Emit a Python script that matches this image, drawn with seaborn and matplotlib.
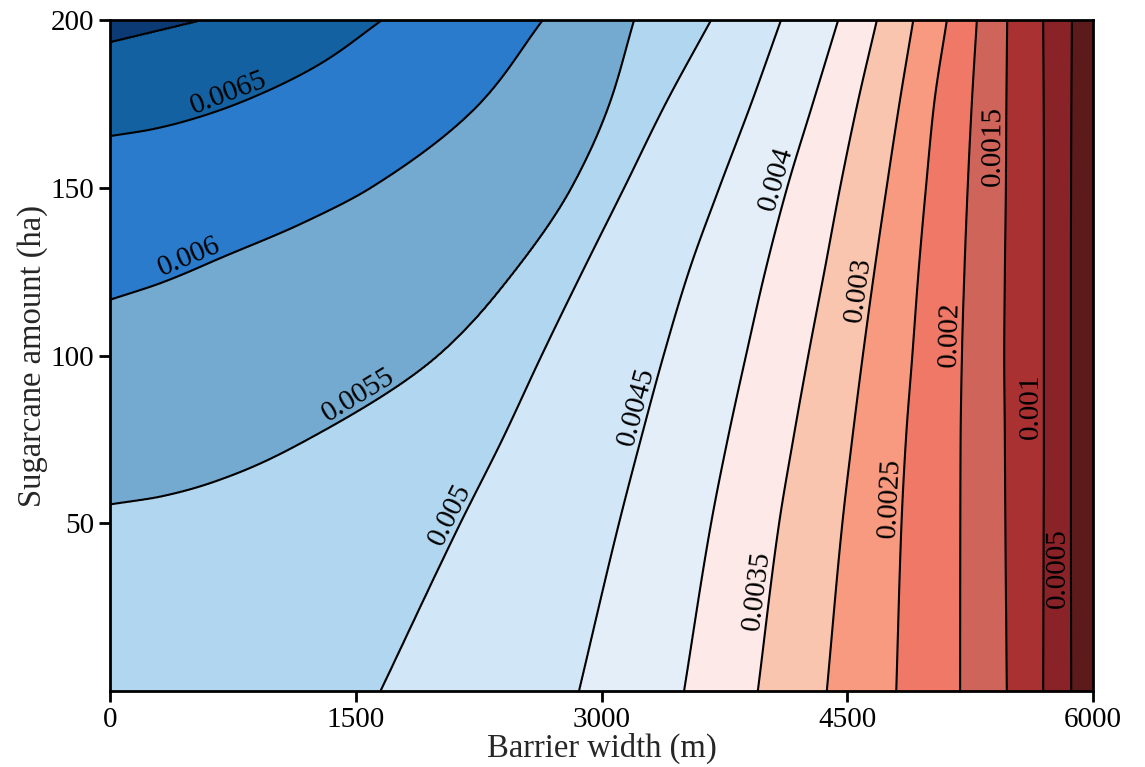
import numpy as np
import matplotlib
matplotlib.use('Agg')
import matplotlib.pyplot as plt
import seaborn as sns

# contour levels and the colours of the 15 filled bands, low -> high
band_edges = [0.0, 0.0005, 0.001, 0.0015, 0.002, 0.0025, 0.003, 0.0035,
              0.004, 0.0045, 0.005, 0.0055, 0.006, 0.0065, 0.007, 0.0075]
line_levels = band_edges[1:-1]
band_colors = ['#5c1a1b', '#8a2327', '#a93131', '#cf655a', '#ef7866',
               '#f89a7f', '#f9c5af', '#fde9e7', '#e3eef8', '#d1e6f7',
               '#b0d7ef', '#74aad0', '#2a7bcb', '#1461a1', '#0b3a75']

# barrier width (m) where each contour line crosses these sugarcane amounts (ha)
rows_ha = [0, 50, 75, 100, 125, 150, 175, 200]
x_0005 = [5867, 5865, 5865, 5865, 5865, 5866, 5868, 5871]
x_0010 = [5696, 5699, 5700, 5700, 5700, 5700, 5699, 5696]
x_0015 = [5474, 5465, 5462, 5458, 5462, 5468, 5471, 5476]
x_0020 = [5189, 5190, 5192, 5200, 5215, 5235, 5260, 5291]
x_0025 = [4799, 4831, 4858, 4897, 4935, 4980, 5030, 5108]
x_0030 = [4375, 4470, 4530, 4595, 4665, 4740, 4818, 4903]
x_0035 = [3954, 4084, 4170, 4262, 4360, 4456, 4562, 4681]
x_0040 = [3504, 3669, 3770, 3882, 3999, 4133, 4289, 4445]
x_0045 = [2863, 3107, 3240, 3379, 3533, 3719, 3913, 4096]
x_0050 = [1652, 2139, 2395, 2634, 2883, 3138, 3390, 3669]

# the upper lines leave through the left edge
x_0055 = [0, 305, 702, 1209, 2003, 2468, 2817, 3049, 3199]
y_0055 = [55.6, 57.9, 63.5, 75, 100, 125, 150, 175, 200]
x_0060 = [0, 305, 702, 1160, 1593, 2255, 2642]
y_0060 = [116.6, 121.5, 129.6, 139.1, 150, 175, 200]
x_0065 = [0, 244, 519, 855, 1282, 1661]
y_0065 = [165.4, 167.3, 170.7, 176.6, 186.9, 200]
x_0070 = [0, 571]
y_0070 = [193.3, 200]

# where the labels sit (barrier width, sugarcane amount)
label_pos = [(720, 178.8), (488, 129.3), (1508, 88.4), (2027, 54.0),
             (3156, 85.4), (4048, 153.1), (3938, 30.1), (4567, 119.7),
             (4731, 57.6), (5128, 106.3), (5372, 162.4), (5616, 84.8),
             (5788, 36.7)]

line_x = [x_0005, x_0010, x_0015, x_0020, x_0025, x_0030, x_0035,
          x_0040, x_0045, x_0050, x_0055, x_0060, x_0065, x_0070]
line_y = [rows_ha] * 10 + [y_0055, y_0060, y_0065, y_0070]


def pchip(xk, yk, xq):
    # monotone cubic through the traced points
    xk = np.asarray(xk, float)
    yk = np.asarray(yk, float)
    xq = np.clip(xq, xk[0], xk[-1])
    h = np.diff(xk)
    d = np.diff(yk) / h
    m = np.zeros_like(yk)
    m[0], m[-1] = d[0], d[-1]
    for k in range(1, len(xk) - 1):
        if d[k - 1] * d[k] > 0:
            w1 = 2 * h[k] + h[k - 1]
            w2 = h[k] + 2 * h[k - 1]
            m[k] = (w1 + w2) / (w1 / d[k - 1] + w2 / d[k])
    i = np.clip(np.searchsorted(xk, xq) - 1, 0, len(h) - 1)
    t = (xq - xk[i]) / h[i]
    return ((2 * t**3 - 3 * t**2 + 1) * yk[i] + (t**3 - 2 * t**2 + t) * h[i] * m[i]
            + (-2 * t**3 + 3 * t**2) * yk[i + 1] + (t**3 - t**2) * h[i] * m[i + 1])


# build the gridded field from the traced lines
xs = np.linspace(0, 6000, 1201)
ys = np.linspace(0, 200, 801)
cross = []
n_left = 0
for lx, ly in zip(line_x, line_y):
    lx, ly = list(lx), list(ly)
    if ly[0] > 0:
        # carry the line past the left edge (same slope, then down to y=0)
        # so that every row keeps the lines in order
        n_left += 1
        slope = (lx[1] - lx[0]) / (ly[1] - ly[0])
        lx = [-3000 * n_left, -6 * slope] + lx
        ly = [0, ly[0] - 6] + ly
    cross.append(pchip(ly, lx, ys))
cross = np.array(cross)

Z = np.empty((len(ys), len(xs)))
for i in range(len(ys)):
    xp = np.concatenate([[-20000], cross[::-1, i], [6001]])
    fp = [0.0074] + line_levels[::-1] + [0.0001]
    Z[i] = np.interp(xs, xp, fp)

sns.set_style('ticks')
plt.rcParams['font.family'] = ['Liberation Serif', 'DejaVu Serif']

fig = plt.figure(figsize=(11.45, 7.67), dpi=100)
ax = fig.add_axes([0.0961, 0.0991, 0.8585, 0.8748])

ax.contourf(xs, ys, Z, levels=band_edges, colors=band_colors)
cs = ax.contour(xs, ys, Z, levels=line_levels, colors='k', linewidths=1.5)
texts = ax.clabel(cs, levels=line_levels, manual=label_pos, inline=False,
                  fontsize=21, fmt='%g')
for t in texts:
    r = t.get_rotation() % 180
    if r > 100:
        r -= 180
    t.set_rotation(r)
    t.set_rotation_mode('anchor')
    t.set_va('bottom')

ax.set_xlim(0, 6000)
ax.set_ylim(0, 200)
ax.set_xticks([0, 1500, 3000, 4500, 6000])
ax.set_yticks([50, 100, 150, 200])
ax.tick_params(direction='out', length=8, width=2, labelsize=21, colors='k')
for sp in ax.spines.values():
    sp.set_linewidth(2)
    sp.set_color('k')
ax.set_xlabel('Barrier width (m)', fontsize=23.5, labelpad=0)
ax.set_ylabel('Sugarcane amount (ha)', fontsize=23.5, labelpad=2)

fig.savefig('out.png', dpi=100)
